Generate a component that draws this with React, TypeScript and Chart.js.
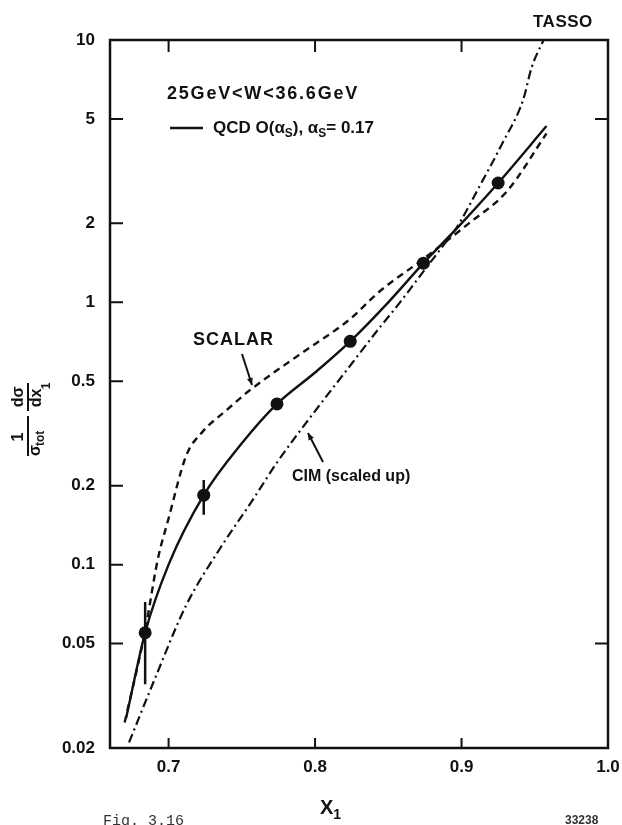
import React, { useEffect, useRef } from "react";
import { Chart, registerables } from "chart.js";
Chart.register(...registerables);

// QCD O(alpha_s) curve (solid)
const qcdX = [0.671, 0.684, 0.700, 0.724, 0.750, 0.774, 0.800, 0.824, 0.850, 0.874, 0.900, 0.925, 0.958];
const qcdY = [0.026, 0.055, 0.100, 0.184, 0.29, 0.41, 0.54, 0.71, 1.0, 1.41, 2.0, 2.85, 4.7];
// SCALAR gluon curve (dashed)
const scalarX = [0.670, 0.684, 0.6925, 0.700, 0.712, 0.723, 0.740, 0.755, 0.789, 0.8235, 0.844, 0.873, 0.905, 0.931, 0.958];
const scalarY = [0.025, 0.056, 0.104, 0.15, 0.26, 0.32, 0.39, 0.46, 0.63, 0.86, 1.1, 1.45, 2.0, 2.65, 4.4];
// CIM (scaled up) curve (dash-dot)
const cimX = [0.673, 0.690, 0.712, 0.735, 0.757, 0.774, 0.800, 0.820, 0.844, 0.858, 0.873, 0.888, 0.897, 0.912, 0.928, 0.942, 0.948, 0.956];
const cimY = [0.021, 0.036, 0.070, 0.115, 0.175, 0.245, 0.385, 0.537, 0.80, 1.0, 1.29, 1.66, 1.94, 2.75, 4.05, 5.9, 7.9, 10];
// TASSO data points with error bars
const dataX = [0.684, 0.724, 0.774, 0.824, 0.874, 0.925];
const dataY = [0.055, 0.184, 0.41, 0.71, 1.41, 2.85];
const dataLow = [0.035, 0.155, 0.39, 0.68, 1.34, 2.72];
const dataHigh = [0.072, 0.21, 0.43, 0.74, 1.48, 2.98];
// ticks
const xTicks = [0.7, 0.8, 0.9, 1.0];
const xTickLabels = ["0.7", "0.8", "0.9", "1.0"];
const yTicks = [0.02, 0.05, 0.1, 0.2, 0.5, 1, 2, 5, 10];
const yTickLabels = ["0.02", "0.05", "0.1", "0.2", "0.5", "1", "2", "5", "10"];
const topTicks = [0.7, 0.8, 0.9];
const bottomTicks = [0.7, 0.8, 0.9];
const rightTicks = [5, 0.05];

const FONT = '"Liberation Sans", Arial, sans-serif';
const INK = "#111";

type Part = { t: string; sub?: boolean };
function drawRich(ctx: CanvasRenderingContext2D, parts: Part[], x: number, y: number, size: number) {
  let cx = x;
  ctx.textAlign = "left";
  ctx.textBaseline = "middle";
  for (const p of parts) {
    const s = p.sub ? size * 0.7 : size;
    ctx.font = `bold ${s}px ${FONT}`;
    ctx.fillText(p.t, cx, y + (p.sub ? size * 0.35 : 0));
    cx += ctx.measureText(p.t).width;
  }
}

function arrow(ctx: CanvasRenderingContext2D, x1: number, y1: number, x2: number, y2: number) {
  ctx.beginPath();
  ctx.moveTo(x1, y1);
  ctx.lineTo(x2, y2);
  ctx.stroke();
  const a = Math.atan2(y2 - y1, x2 - x1);
  const L = 7, W = 3;
  ctx.beginPath();
  ctx.moveTo(x2, y2);
  ctx.lineTo(x2 - L * Math.cos(a) + W * Math.sin(a), y2 - L * Math.sin(a) - W * Math.cos(a));
  ctx.lineTo(x2 - L * Math.cos(a) - W * Math.sin(a), y2 - L * Math.sin(a) + W * Math.cos(a));
  ctx.closePath();
  ctx.fill();
}

const framePlugin = {
  id: "frame",
  afterDraw(chart: any) {
    const { ctx, chartArea: a, scales } = chart;
    const xs = scales.x, ys = scales.y;
    ctx.save();
    ctx.strokeStyle = INK;
    ctx.lineWidth = 2.5;
    ctx.strokeRect(a.left, a.top, a.right - a.left, a.bottom - a.top);
    ctx.lineWidth = 2;
    ctx.beginPath();
    for (const v of yTicks) {
      const y = ys.getPixelForValue(v);
      if (v === 10 || v === 0.02) continue;
      ctx.moveTo(a.left, y);
      ctx.lineTo(a.left + 13, y);
    }
    for (const v of rightTicks) {
      const y = ys.getPixelForValue(v);
      ctx.moveTo(a.right, y);
      ctx.lineTo(a.right - 13, y);
    }
    for (const v of topTicks) {
      const x = xs.getPixelForValue(v);
      ctx.moveTo(x, a.top);
      ctx.lineTo(x, a.top + 12);
    }
    for (const v of bottomTicks) {
      const x = xs.getPixelForValue(v);
      ctx.moveTo(x, a.bottom);
      ctx.lineTo(x, a.bottom - 10);
    }
    ctx.stroke();
    ctx.restore();
  },
};

const errPlugin = {
  id: "err",
  afterDatasetsDraw(chart: any) {
    const { ctx, scales } = chart;
    ctx.save();
    ctx.strokeStyle = INK;
    ctx.lineWidth = 2.5;
    ctx.beginPath();
    dataX.forEach((x, i) => {
      const px = scales.x.getPixelForValue(x);
      ctx.moveTo(px, scales.y.getPixelForValue(dataLow[i]));
      ctx.lineTo(px, scales.y.getPixelForValue(dataHigh[i]));
    });
    ctx.stroke();
    ctx.restore();
  },
};

const textPlugin = {
  id: "texts",
  afterDraw(chart: any) {
    const { ctx } = chart;
    ctx.save();
    ctx.fillStyle = INK;
    ctx.strokeStyle = INK;
    // header
    ctx.textBaseline = "middle";
    ctx.textAlign = "left";
    ctx.font = `bold 18px ${FONT}`;
    (ctx as any).letterSpacing = "1.8px";
    ctx.fillText("25GeV<W<36.6GeV", 167, 94);
    (ctx as any).letterSpacing = "0px";
    // legend
    ctx.lineWidth = 2.4;
    ctx.beginPath();
    ctx.moveTo(170, 128);
    ctx.lineTo(203, 128);
    ctx.stroke();
    drawRich(ctx, [{ t: "QCD O(α" }, { t: "S", sub: true }, { t: "), α" }, { t: "S", sub: true }, { t: "= 0.17" }], 213, 128, 17);
    // TASSO
    ctx.font = `bold 17px ${FONT}`;
    ctx.textAlign = "left";
    ctx.textBaseline = "middle";
    (ctx as any).letterSpacing = "0.5px";
    ctx.fillText("TASSO", 533, 22);
    // SCALAR
    ctx.font = `bold 18px ${FONT}`;
    (ctx as any).letterSpacing = "1px";
    ctx.fillText("SCALAR", 193, 340);
    (ctx as any).letterSpacing = "0px";
    ctx.lineWidth = 2;
    arrow(ctx, 242, 354, 252, 385);
    // CIM
    ctx.font = `bold 16px ${FONT}`;
    ctx.fillText("CIM (scaled up)", 292, 477);
    arrow(ctx, 323, 462, 308, 433);
    // x title
    drawRich(ctx, [{ t: "X" }, { t: "1", sub: true }], 320, 808, 20);
    // y title rotated
    ctx.save();
    ctx.rotate(-Math.PI / 2);
    ctx.textAlign = "center";
    ctx.textBaseline = "middle";
    ctx.font = `bold 16px ${FONT}`;
    // (u, v) -> page (v, -u)
    ctx.fillText("1", -437, 19);
    ctx.lineWidth = 2;
    ctx.beginPath();
    ctx.moveTo(-456, 28);
    ctx.lineTo(-416, 28);
    ctx.moveTo(-411, 28);
    ctx.lineTo(-383, 28);
    ctx.stroke();
    ctx.textAlign = "left";
    ctx.font = `bold 16px ${FONT}`;
    ctx.fillText("σ", -456, 36);
    ctx.font = `bold 12px ${FONT}`;
    ctx.fillText("tot", -446, 41);
    ctx.textAlign = "center";
    ctx.font = `bold 16px ${FONT}`;
    ctx.fillText("dσ", -397, 19);
    ctx.fillText("dx", -398, 37);
    ctx.font = `bold 12px ${FONT}`;
    ctx.fillText("1", -386, 47);
    ctx.restore();
    // footer
    ctx.fillStyle = "#333";
    ctx.textAlign = "left";
    ctx.textBaseline = "top";
    ctx.font = `15px "Liberation Mono", monospace`;
    ctx.fillText("Fig. 3.16", 103, 814);
    ctx.font = `bold 12px ${FONT}`;
    ctx.fillText("33238", 565, 815);
    ctx.restore();
  },
};

function pts(xs: number[], ys: number[]) {
  return xs.map((x, i) => ({ x, y: ys[i] }));
}

export default function App() {
  const ref = useRef<HTMLCanvasElement | null>(null);
  useEffect(() => {
    if (!ref.current) return;
    const lineBase = {
      showLine: true,
      borderColor: INK,
      pointRadius: 0,
      cubicInterpolationMode: "monotone" as const,
      fill: false,
    };
    const chart = new Chart(ref.current, {
      type: "scatter",
      data: {
        datasets: [
          { ...lineBase, label: "QCD", data: pts(qcdX, qcdY), borderWidth: 2.4 },
          { ...lineBase, label: "SCALAR", data: pts(scalarX, scalarY), borderWidth: 2.4, borderDash: [7, 5] },
          { ...lineBase, label: "CIM", data: pts(cimX, cimY), borderWidth: 2.2, borderDash: [9, 4, 2, 4] },
          {
            label: "TASSO",
            data: pts(dataX, dataY),
            showLine: false,
            pointRadius: 6.5,
            pointBackgroundColor: INK,
            pointBorderWidth: 0,
          },
        ],
      },
      options: {
        responsive: false,
        animation: false,
        devicePixelRatio: 1,
        layout: { padding: { top: 40, right: 14, bottom: 0, left: 0 } },
        plugins: { legend: { display: false }, tooltip: { enabled: false } },
        scales: {
          x: {
            type: "linear",
            min: 0.660,
            max: 1.0,
            grid: { display: false, drawTicks: false },
            border: { display: false },
            afterBuildTicks: (s: any) => {
              s.ticks = xTicks.map((v) => ({ value: v }));
            },
            afterFit: (s: any) => {
              s.height = 77;
              s.paddingLeft = 0;
              s.paddingRight = 0;
            },
            ticks: {
              autoSkip: false,
              maxRotation: 0,
              padding: 9,
              color: INK,
              font: { family: FONT, size: 17, weight: "bold" },
              callback: (_v: any, i: number) => xTickLabels[i],
            },
          },
          y: {
            type: "logarithmic",
            min: 0.02,
            max: 10,
            grid: { display: false, drawTicks: false },
            border: { display: false },
            afterBuildTicks: (s: any) => {
              s.ticks = yTicks.map((v) => ({ value: v }));
            },
            afterFit: (s: any) => {
              s.width = 110;
              s.paddingTop = 0;
              s.paddingBottom = 0;
            },
            ticks: {
              autoSkip: false,
              padding: 15,
              color: INK,
              font: { family: FONT, size: 17, weight: "bold" },
              callback: (_v: any, i: number) => yTickLabels[i],
            },
          },
        },
      },
      plugins: [framePlugin, errPlugin, textPlugin],
    } as any);
    return () => chart.destroy();
  }, []);
  return (
    <div style={{ position: "absolute", left: 0, top: 0, width: 622, height: 825, background: "#fff" }}>
      <canvas ref={ref} width={622} height={825} style={{ display: "block" }} />
    </div>
  );
}
